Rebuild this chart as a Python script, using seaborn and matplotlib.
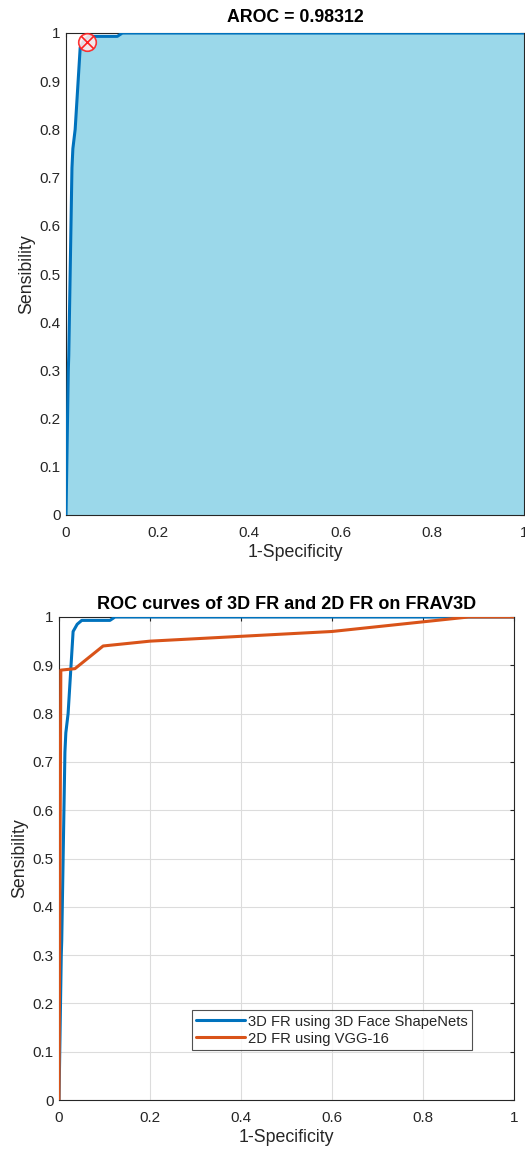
import numpy as np
import pandas as pd
import matplotlib
matplotlib.use("Agg")
import matplotlib.pyplot as plt
import seaborn as sns

# Data
fpr_3d = [0.0, 0.005, 0.006, 0.013, 0.015, 0.02, 0.031, 0.04, 0.05, 0.112, 0.123, 1.0]
tpr_3d = [0.0, 0.30, 0.33, 0.72, 0.76, 0.80, 0.97, 0.985, 0.993, 0.993, 1.0, 1.0]
fpr_2d = [0.0, 0.004, 0.035, 0.097, 0.2, 0.4, 0.6, 0.8, 0.9, 1.0]
tpr_2d = [0.0, 0.89, 0.893, 0.94, 0.95, 0.96, 0.97, 0.99, 1.0, 1.0]
op_point_x = [0.045]
op_point_y = [0.982]
ticks = [0, 0.1, 0.2, 0.3, 0.4, 0.5, 0.6, 0.7, 0.8, 0.9, 1]
xticks = [0, 0.2, 0.4, 0.6, 0.8, 1]
aroc_title = "AROC = 0.98312"
title2 = "ROC curves of 3D FR and 2D FR on FRAV3D"
series_names = ["3D FR using 3D Face ShapeNets", "2D FR using VGG-16"]

sns.set_theme(style="white")
plt.rcParams['font.family'] = ['Liberation Sans', 'DejaVu Sans']

BLUE = "#0072BD"
ORANGE = "#D95319"
FILL = "#9BD8EA"
TXT = "#262626"

fig = plt.figure(figsize=(5.25, 11.54), dpi=100)

def style_axes(ax, grid):
    ax.set_xlim(0, 1)
    ax.set_ylim(0, 1)
    ax.set_xticks(xticks)
    ax.set_yticks(ticks)
    ax.set_xticklabels([f"{t:g}" for t in xticks])
    ax.set_yticklabels([f"{t:g}" for t in ticks])
    ax.tick_params(direction="in", top=True, right=True, length=3, width=0.8,
                   colors=TXT, labelsize=11, labelcolor=TXT)
    ax.tick_params(axis="x", pad=8)
    ax.tick_params(axis="y", pad=4)
    for s in ax.spines.values():
        s.set_color(TXT)
        s.set_linewidth(0.8)
        s.set_visible(True)
    if grid:
        ax.grid(True, color="#DCDCDC", linewidth=0.8)
    else:
        ax.grid(False)
    ax.set_xlabel("1-Specificity", fontsize=12.8, color=TXT, labelpad=3)
    ax.set_ylabel("Sensibility", fontsize=12.8, color=TXT, labelpad=3)

# Top axes
ax1 = fig.add_axes([66/525, 1 - 515/1154, (524-66)/525, (515-33)/1154])
df1 = pd.DataFrame({"x": fpr_3d, "y": tpr_3d})
ax1.fill_between(df1["x"], 0, df1["y"], color=FILL, linewidth=0, zorder=1)
sns.lineplot(data=df1, x="x", y="y", ax=ax1, color=BLUE, linewidth=2.2,
             sort=False, estimator=None, zorder=3)
ax1.scatter(op_point_x, op_point_y, s=160, facecolor="#FCEAEA", edgecolor="#FF2020",
            linewidth=1.2, alpha=0.9, zorder=4, clip_on=False)
ax1.scatter(op_point_x, op_point_y, s=80, marker="x", color="#FF2020",
            linewidth=1.2, zorder=5, clip_on=False)
style_axes(ax1, grid=False)
ax1.set_title(aroc_title, fontsize=12.8, fontweight="bold", color="black", pad=8)

# Bottom axes
ax2 = fig.add_axes([59/525, 1 - 1100/1154, (514-59)/525, (1100-617)/1154])
df2 = pd.concat([
    pd.DataFrame({"x": fpr_3d, "y": tpr_3d, "method": series_names[0]}),
    pd.DataFrame({"x": fpr_2d, "y": tpr_2d, "method": series_names[1]}),
], ignore_index=True)
sns.lineplot(data=df2, x="x", y="y", hue="method", ax=ax2,
             palette={series_names[0]: BLUE, series_names[1]: ORANGE},
             linewidth=2.2, sort=False, estimator=None, zorder=3)
style_axes(ax2, grid=True)
ax2.set_title(title2, fontsize=13, fontweight="bold", color="black", pad=6)
leg = ax2.legend(loc="lower left", bbox_to_anchor=((192-59)/455, (1100-1050)/483),
                 fontsize=10.6, frameon=True, fancybox=False, borderpad=0.3,
                 handlelength=3.3, handletextpad=0.2, labelspacing=0.2,
                 borderaxespad=0)
leg.get_frame().set_edgecolor(TXT)
leg.get_frame().set_linewidth(0.8)
for t in leg.get_texts():
    t.set_color(TXT)

fig.savefig("out.png", dpi=100)
